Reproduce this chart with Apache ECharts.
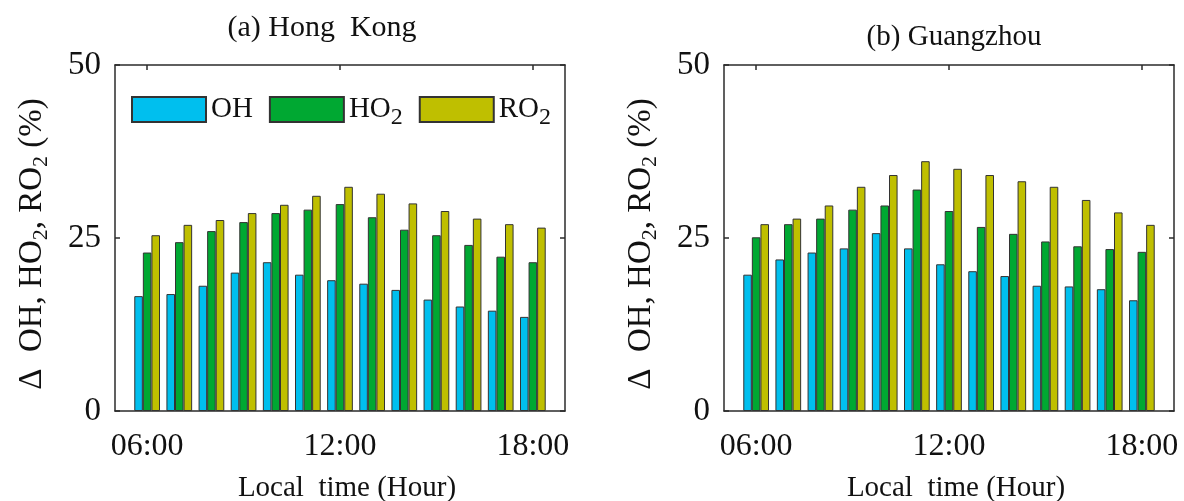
<!DOCTYPE html>
<html><head><meta charset="utf-8">
<script src="https://cdn.jsdelivr.net/npm/echarts@6/dist/echarts.min.js"></script>
<style>html,body{margin:0;padding:0;background:#fff}#c{width:1184px;height:501px}</style>
</head><body><div id="c"></div>
<script>
// ---- data ----
const hours = [6,7,8,9,10,11,12,13,14,15,16,17,18];
const xTicks = [6,12,18];
const seriesNames = ['OH','HO2','RO2'];
const hkOH  = [16.6,16.9,18.1,20.0,21.5,19.7,18.9,18.4,17.5,16.1,15.1,14.5,13.6];
const hkHO2 = [22.9,24.4,26.0,27.3,28.6,29.1,29.9,28.0,26.2,25.4,24.0,22.3,21.5];
const hkRO2 = [25.4,26.9,27.6,28.6,29.8,31.1,32.4,31.4,30.0,28.9,27.8,27.0,26.5];
const gzOH  = [19.7,21.9,22.9,23.5,25.7,23.5,21.2,20.2,19.5,18.1,18.0,17.6,16.0];
const gzHO2 = [25.1,27.0,27.8,29.1,29.7,32.0,28.9,26.6,25.6,24.5,23.8,23.4,23.0];
const gzRO2 = [27.0,27.8,29.7,32.4,34.1,36.1,35.0,34.1,33.2,32.4,30.5,28.7,26.9];
const panelTitles = ['(a) Hong  Kong', '(b) Guangzhou'];
const xName = 'Local  time (Hour)';

// ---- styling ----
const FONT = '"Liberation Serif", "Times New Roman", serif';
const colors = ['#00bfee', '#00a832', '#bfbf00'];
const axisColor = '#2b2b2b';
const lineStyle = {color: axisColor, width: 1.5};
const grids = [
  {left: 115, top: 65, width: 450, height: 346, outerBoundsMode: 'none', containLabel: false},
  {left: 724, top: 65, width: 450, height: 346, outerBoundsMode: 'none', containLabel: false}
];
const panels = [[hkOH, hkHO2, hkRO2], [gzOH, gzHO2, gzRO2]];

const xAxes = [], yAxes = [], series = [];
grids.forEach((g, gi) => {
  xAxes.push({
    gridIndex: gi, type: 'value', position: 'bottom', min: 5, max: 19,
    axisLine: {show: true, onZero: false, lineStyle},
    axisTick: {show: true, inside: true, length: 5, customValues: xTicks, lineStyle},
    axisLabel: {show: true, customValues: xTicks, margin: 20, fontSize: 32, fontFamily: FONT, color: '#111',
      formatter: v => String(v).padStart(2, '0') + ':00'},
    splitLine: {show: false},
    name: xName, nameLocation: 'middle', nameGap: 63,
    nameTextStyle: {fontSize: 29, fontFamily: FONT, color: '#111', padding: [0, 0, 0, 14]}
  });
  xAxes.push({
    gridIndex: gi, type: 'value', position: 'top', min: 5, max: 19,
    axisLine: {show: true, onZero: false, lineStyle},
    axisTick: {show: true, inside: true, length: 5, customValues: xTicks, lineStyle},
    axisLabel: {show: false}, splitLine: {show: false}
  });
  yAxes.push({
    gridIndex: gi, type: 'value', position: 'left', min: 0, max: 50, interval: 25,
    axisLine: {show: true, onZero: false, lineStyle},
    axisTick: {show: true, inside: true, length: 5, lineStyle},
    axisLabel: {margin: 14, fontSize: 33, fontFamily: FONT, color: '#111'},
    splitLine: {show: false},
    name: '{m|Δ  OH, HO}{s|2}{m|, RO}{s|2}{m| (%)}',
    nameLocation: 'middle', nameGap: 66, nameRotate: 90,
    nameTextStyle: {
      fontFamily: FONT, color: '#111', padding: [0, 12, 0, 0],
      rich: {
        m: {fontSize: 33, fontFamily: FONT, color: '#111', lineHeight: 33},
        s: {fontSize: 22, fontFamily: FONT, color: '#111', lineHeight: 22, padding: [17, 0, 0, 0]}
      }
    }
  });
  yAxes.push({
    gridIndex: gi, type: 'value', position: 'right', min: 0, max: 50, interval: 25,
    axisLine: {show: true, onZero: false, lineStyle},
    axisTick: {show: true, inside: true, length: 5, lineStyle},
    axisLabel: {show: false}, splitLine: {show: false}
  });
  panels[gi].forEach((arr, si) => {
    series.push({
      type: 'bar', name: seriesNames[si],
      xAxisIndex: gi * 2, yAxisIndex: gi * 2,
      barGap: '0%', barCategoryGap: '20%',
      itemStyle: {color: colors[si], borderColor: '#333', borderWidth: 1},
      data: hours.map((h, i) => [h, arr[i]])
    });
  });
});

const chart = echarts.init(document.getElementById('c'), null, {renderer: 'canvas'});
chart.setOption({
  animation: false,
  backgroundColor: '#fff',
  title: [
    {text: panelTitles[0], left: 317, top: 8, textAlign: 'center',
      textStyle: {fontSize: 30, fontWeight: 'normal', fontFamily: FONT, color: '#111'}},
    {text: panelTitles[1], left: 949, top: 18, textAlign: 'center',
      textStyle: {fontSize: 29, fontWeight: 'normal', fontFamily: FONT, color: '#111'}}
  ],
  legend: {
    data: seriesNames, left: 126, top: 84, itemWidth: 74, itemHeight: 25, itemGap: 16,
    icon: 'rect', selectedMode: false,
    formatter: n => n === 'OH' ? '{m|OH}' : '{m|' + n.slice(0, 2) + '}{s|2}',
    textStyle: {
      fontFamily: FONT, color: '#111', fontSize: 29,
      rich: {
        m: {fontSize: 29, fontFamily: FONT, color: '#111', lineHeight: 29},
        s: {fontSize: 24, fontFamily: FONT, color: '#111', lineHeight: 24, padding: [17, 0, 0, 0]}
      }
    }
  },
  grid: grids,
  xAxis: xAxes,
  yAxis: yAxes,
  series: series
});
</script>
</body></html>
